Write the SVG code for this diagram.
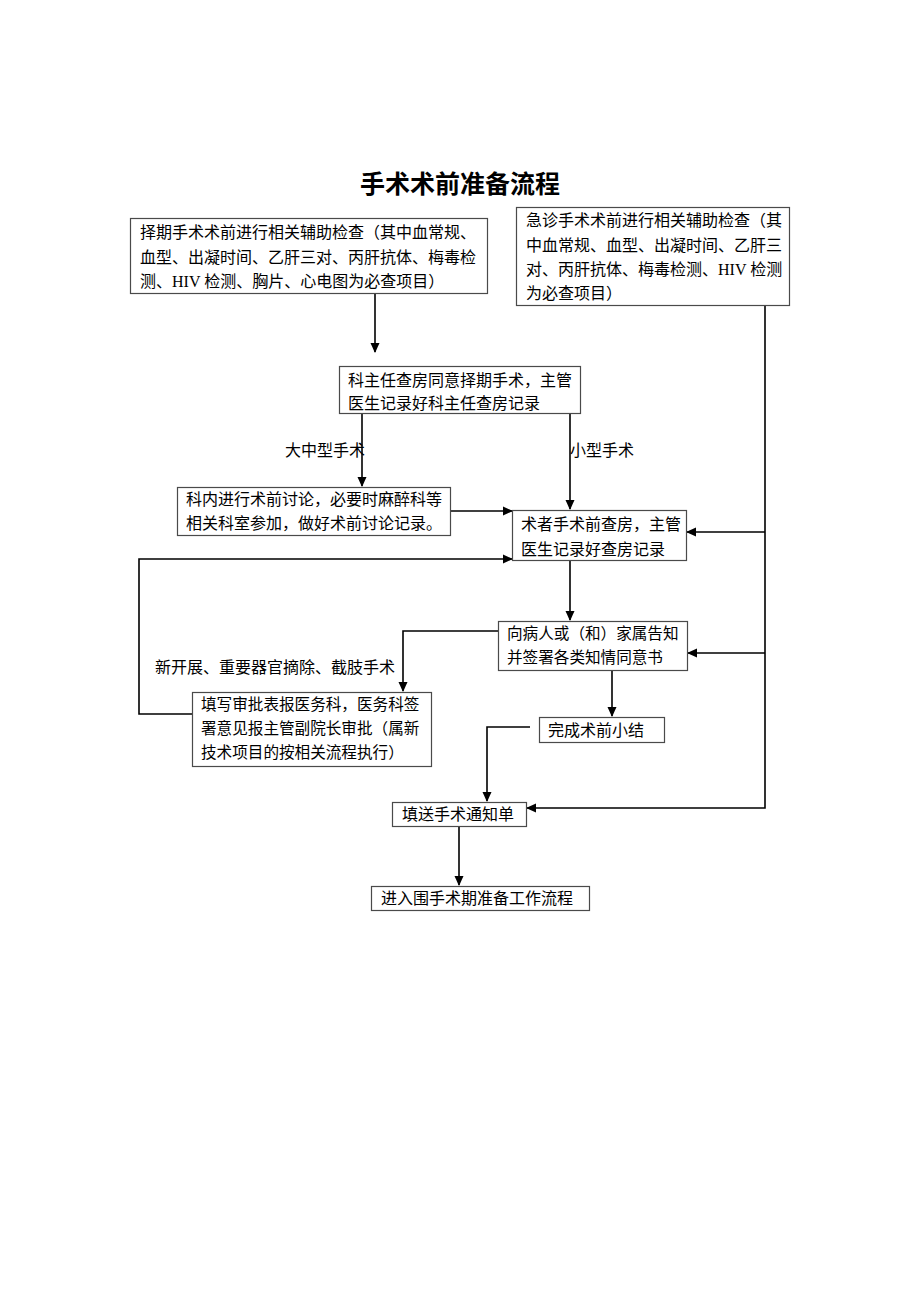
<svg xmlns="http://www.w3.org/2000/svg" width="920" height="1302" viewBox="0 0 920 1302">
<style>
text{font-family:"Liberation Serif","Noto Sans CJK SC",serif;font-size:16px;fill:#000}
.t{font-size:25px;font-weight:bold}
.s{font-size:15.6px}
rect{fill:#fff;stroke:#4a4a4a;stroke-width:1.2}
.c{fill:none;stroke:#000;stroke-width:1.6}
</style>
<defs>
<marker id="a" markerWidth="10" markerHeight="10" refX="9" refY="5" orient="auto" markerUnits="userSpaceOnUse">
<path d="M0,0.5 L10,5 L0,9.5 Z" fill="#000"/>
</marker>
</defs>
<rect x="0" y="0" width="920" height="1302" style="fill:#fff;stroke:none"/>
<text class="t" x="460" y="193" text-anchor="middle">手术术前准备流程</text>

<g id="connectors">
<path class="c" d="M375,294 V352" marker-end="url(#a)"/>
<path class="c" d="M362,414 V486" marker-end="url(#a)"/>
<path class="c" d="M570,414 V509" marker-end="url(#a)"/>
<path class="c" d="M451,511 H512" marker-end="url(#a)"/>
<path class="c" d="M192,714 H139 V559 H512" marker-end="url(#a)"/>
<path class="c" d="M765,306 V808 H527" marker-end="url(#a)"/>
<path class="c" d="M765,532 H687" marker-end="url(#a)"/>
<path class="c" d="M765,653 H688" marker-end="url(#a)"/>
<path class="c" d="M570,561 V620" marker-end="url(#a)"/>
<path class="c" d="M498,631 H403 V691" marker-end="url(#a)"/>
<path class="c" d="M612,671 V716" marker-end="url(#a)"/>
<path class="c" d="M530,727 H487 V801" marker-end="url(#a)"/>
<path class="c" d="M459,827 V885" marker-end="url(#a)"/>
<text x="285" y="456">大中型手术</text>
<text x="570" y="456">小型手术</text>
<text x="155" y="673">新开展、重要器官摘除、截肢手术</text>
</g>

<g id="n1">
<rect x="130.5" y="218.5" width="357" height="75"/>
<text x="140" y="238">择期手术术前进行相关辅助检查（其中血常规、</text>
<text x="140" y="263">血型、出凝时间、乙肝三对、丙肝抗体、梅毒检</text>
<text x="140" y="287">测、HIV 检测、胸片、心电图为必查项目）</text>
</g>
<g id="n2">
<rect x="516.5" y="207.5" width="273" height="98"/>
<text x="526" y="226">急诊手术术前进行相关辅助检查（其</text>
<text x="526" y="251">中血常规、血型、出凝时间、乙肝三</text>
<text x="526" y="275">对、丙肝抗体、梅毒检测、HIV 检测</text>
<text x="526" y="299">为必查项目）</text>
</g>
<g id="n3">
<rect x="339.5" y="366.5" width="241" height="47"/>
<text x="348" y="386">科主任查房同意择期手术，主管</text>
<text x="348" y="409">医生记录好科主任查房记录</text>
</g>
<g id="n4">
<rect x="177.5" y="487.5" width="273" height="48"/>
<text x="186" y="505">科内进行术前讨论，必要时麻醉科等</text>
<text x="186" y="529">相关科室参加，做好术前讨论记录。</text>
</g>
<g id="n5">
<rect x="512.5" y="510.5" width="174" height="50"/>
<text x="521" y="530">术者手术前查房，主管</text>
<text x="521" y="555">医生记录好查房记录</text>
</g>
<g id="n6">
<rect x="498.5" y="621.5" width="189" height="49"/>
<text class="s" x="507" y="639">向病人或（和）家属告知</text>
<text class="s" x="507" y="663">并签署各类知情同意书</text>
</g>
<g id="n7">
<rect x="192.5" y="692.5" width="239" height="74"/>
<text class="s" x="201" y="710">填写审批表报医务科，医务科签</text>
<text class="s" x="201" y="734">署意见报主管副院长审批（属新</text>
<text class="s" x="201" y="758">技术项目的按相关流程执行）</text>
</g>
<g id="n8">
<rect x="539.5" y="717.5" width="125" height="25"/>
<text x="548" y="736">完成术前小结</text>
</g>
<g id="n9">
<rect x="392.5" y="802.5" width="134" height="24"/>
<text x="402" y="820">填送手术通知单</text>
</g>
<g id="n10">
<rect x="371.5" y="886.5" width="218" height="24"/>
<text x="381" y="904">进入围手术期准备工作流程</text>
</g>
</svg>
